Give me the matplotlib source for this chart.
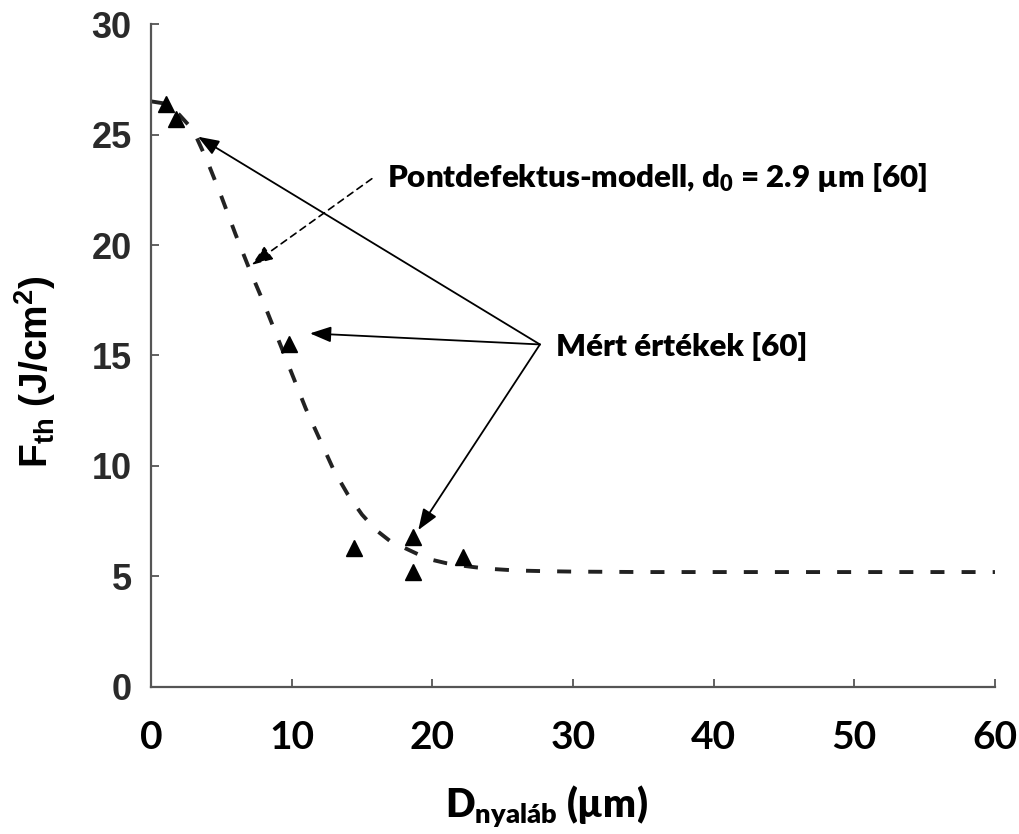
import matplotlib
matplotlib.use("Agg")
import matplotlib.pyplot as plt

plt.rcParams['font.family'] = ['Lato', 'DejaVu Sans']
plt.rcParams['mathtext.fontset'] = 'custom'
plt.rcParams['mathtext.rm'] = 'Liberation Sans:bold'
plt.rcParams['mathtext.sf'] = 'Lato:heavy'
plt.rcParams['mathtext.it'] = 'Lato:heavy'
plt.rcParams['mathtext.bf'] = 'Lato:heavy'

# pontdefektus-modell gorbe
curve_x = [0, 1, 2, 3, 4, 5, 6, 7, 8, 9, 10, 11, 12, 13, 14, 15, 16, 17,
           18, 19, 20, 21, 22, 23, 24, 26, 28, 30, 35, 40, 50, 60]
curve_y = [26.5, 26.4, 25.9, 25.2, 23.8, 22.2, 20.5, 18.9, 17.4, 15.8, 14.2,
           12.6, 11.2, 9.8, 8.7, 7.8, 7.1, 6.6, 6.3, 6.0, 5.75, 5.6, 5.5,
           5.42, 5.35, 5.27, 5.24, 5.22, 5.2, 5.2, 5.2, 5.2]

# mert ertekek
meas_x = [1.1, 1.8, 9.8, 14.4, 18.6, 18.6, 22.2]
meas_y = [26.4, 25.7, 15.5, 6.3, 6.8, 5.2, 5.9]

xticks = [0, 10, 20, 30, 40, 50, 60]
yticks = [0, 5, 10, 15, 20, 25, 30]

fig = plt.figure(figsize=(10.19, 8.34), dpi=100)
ax = fig.add_axes([0.1482, 0.1763, 0.8282, 0.7949])

ax.plot(curve_x, curve_y, color='#222222', lw=2.8, ls=(0, (3.6, 4.4)),
        zorder=2)
ax.plot(meas_x, meas_y, ls='none', marker='^', ms=12, color='black',
        zorder=3)

ax.set_xlim(0, 60)
ax.set_ylim(0, 30)
for s in ['top', 'right']:
    ax.spines[s].set_visible(False)
for s in ['left', 'bottom']:
    ax.spines[s].set_color('#555555')
    ax.spines[s].set_linewidth(1.6)

ax.set_xticks(xticks)
ax.set_yticks(yticks)
ax.tick_params(axis='both', direction='in', length=6, width=1.3,
               color='#555555')
ax.tick_params(axis='x', pad=24)
ax.tick_params(axis='y', pad=14)
for lab in ax.get_xticklabels():
    lab.set_fontfamily(['Lato', 'DejaVu Sans'])
    lab.set_fontweight('bold')
    lab.set_fontsize(28)
    lab.set_color('black')
for lab in ax.get_yticklabels():
    lab.set_fontfamily(['Liberation Sans', 'DejaVu Sans'])
    lab.set_fontweight('bold')
    lab.set_fontsize(26)
    lab.set_color('#2a2a2a')

# tengelyfeliratok
fig.text(0.536, 0.0204, r'D$_{\mathsf{nyaláb}}$ (µm)', ha='center',
         va='baseline', fontsize=28, fontweight='heavy')
fig.text(0.034, 0.555, r'F$_{\mathrm{th}}$ (J/cm$^{\mathrm{2}}$)',
         rotation=90, ha='center', va='center', fontsize=28,
         fontweight='bold', family=['Liberation Sans', 'DejaVu Sans'])

# nyilak
head = '-|>,head_length=0.8,head_width=0.3'
ax.annotate('', xy=(7.16, 19.1), xytext=(15.7, 23.0),
            arrowprops=dict(arrowstyle=head, color='black', lw=1.2,
                            ls=(0, (4, 3)), mutation_scale=16,
                            shrinkA=0, shrinkB=0))
conv = (27.65, 15.5)
for tip in [(3.34, 24.9), (11.3, 16.0), (19.0, 7.1)]:
    ax.annotate('', xy=tip, xytext=conv,
                arrowprops=dict(arrowstyle=head, color='black', lw=1.3,
                                mutation_scale=16, shrinkA=0, shrinkB=0))

ax.text(16.75, 22.64, r'Pontdefektus-modell, d$_{\mathsf{0}}$ = 2.9 µm [60]',
        ha='left', va='baseline', fontsize=22.5, fontweight='heavy')
ax.text(28.8, 14.96, 'Mért értékek [60]', ha='left', va='baseline',
        fontsize=22.5, fontweight='heavy')

fig.savefig('out.png', dpi=100)
